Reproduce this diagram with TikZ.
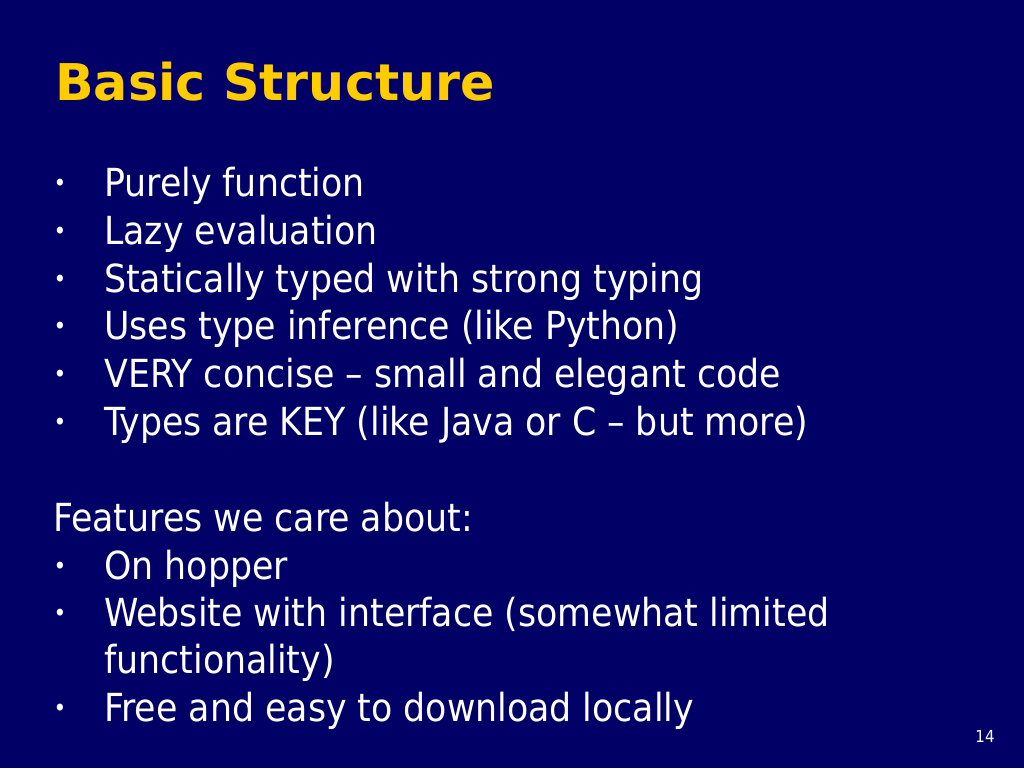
\documentclass[tikz,border=0pt]{standalone}
\usepackage{fontspec}
\setmainfont{DejaVu Sans Condensed}
\newfontfamily\titlefont{DejaVu Sans}
\begin{document}
\begin{tikzpicture}[x=0.75pt,y=-0.75pt,
  body/.style={anchor=base west,inner sep=0,text=white,font=\fontsize{29}{34}\selectfont},
  bul/.style={anchor=base,inner sep=0,text=white,font=\fontsize{18}{20}\selectfont}]
\fill[fill={rgb,255:red,0;green,0;blue,102}] (0,0) rectangle (1024,768);
\useasboundingbox (0,0) rectangle (1024,768);
\node[anchor=base west,inner sep=0,text={rgb,255:red,255;green,204;blue,0},font=\titlefont\bfseries\fontsize{38}{44}\selectfont] (title) at (55,100) {Basic Structure};
\foreach \y/\t [count=\i] in {196/Purely function,244/Lazy evaluation,292/Statically typed with strong typing,339/Uses type inference (like Python),387/VERY concise -- small and elegant code,435/Types are KEY (like Java or C -- but more),579/On hopper,626/Website with interface (somewhat limited,721/Free and easy to download locally}{
  \node[body] (l\i) at (104,\y) {\t};
  \node[bul] (b\i) at (60,\y-5) {•};
}
\node[body] (l10) at (104,673) {functionality)};
\node[body] (feat) at (53,531) {Features we care about:};
\node[anchor=center,inner sep=0,text=white,font=\fontsize{12.5}{14}\selectfont] (pg) at (985,736) {14};
\end{tikzpicture}
\end{document}
